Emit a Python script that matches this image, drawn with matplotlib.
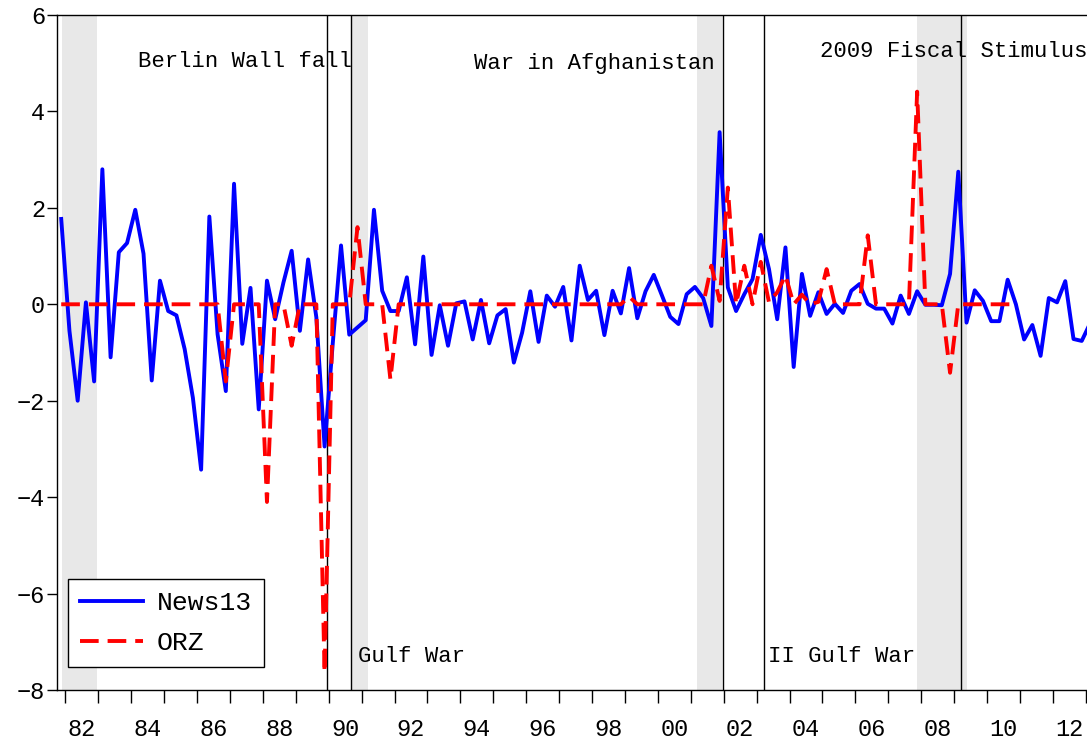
import matplotlib
matplotlib.use("Agg")
import matplotlib.pyplot as plt
import pandas as pd

# quarterly series, first observation 1981Q4
first_quarter = "1981Q4"

news13 = [
    1.77, -0.55, -2.00, 0.04, -1.60, 2.80, -1.10, 1.08, 1.27, 1.96,
    1.05, -1.58, 0.49, -0.14, -0.23, -0.93, -1.94, -3.43, 1.82, -0.62,
    -1.80, 2.50, -0.82, 0.34, -2.18, 0.49, -0.31, 0.45, 1.11, -0.55,
    0.93, -0.27, -2.95, -0.80, 1.22, -0.63, -0.48, -0.33, 1.96, 0.28,
    -0.14, -0.14, 0.56, -0.83, 0.99, -1.05, -0.02, -0.86, 0.02, 0.06,
    -0.73, 0.09, -0.81, -0.23, -0.10, -1.21, -0.59, 0.27, -0.78, 0.18,
    -0.05, 0.36, -0.75, 0.80, 0.09, 0.28, -0.64, 0.28, -0.19, 0.75,
    -0.29, 0.27, 0.61, 0.18, -0.26, -0.41, 0.21, 0.36, 0.13, -0.45,
    3.57, 0.35, -0.14, 0.21, 0.52, 1.44, 0.73, -0.31, 1.18, -1.30,
    0.63, -0.24, 0.25, -0.20, 0.01, -0.18, 0.28, 0.42, 0.01, -0.09,
    -0.09, -0.40, 0.18, -0.20, 0.27, -0.01, -0.01, -0.02, 0.63, 2.75,
    -0.38, 0.29, 0.07, -0.35, -0.35, 0.51, 0.00, -0.73, -0.43, -1.07,
    0.13, 0.04, 0.48, -0.72, -0.76, -0.40,
]

orz = [
    0, 0, 0, 0, 0, 0, 0, 0, 0, 0,
    0, 0, 0, 0, 0, 0, 0, 0, 0, 0,
    -1.60, 0, 0, 0, 0, -4.10, 0, 0, -0.86, 0,
    0, 0, -7.64, 0, 0, 0, 1.60, 0, 0, 0,
    -1.56, 0, 0, 0, 0, 0, 0, 0, 0, 0,
    0, 0, 0, 0, 0, 0, 0, 0, 0, 0,
    0, 0, 0, 0, 0, 0, 0, 0, 0, 0.16,
    0, 0, 0, 0, 0, 0, 0, 0, 0, 0.80,
    0.07, 2.42, 0, 0.80, 0, 0.88, 0.04, 0.25, 0.60, 0,
    0.20, 0, 0.05, 0.73, 0, 0, 0, 0, 1.43, 0,
    0, 0, 0, 0, 4.41, 0, 0, 0, -1.42, 0,
    0, 0, 0, 0, 0, 0, 0,
]

event_dates = [1989.94, 1990.67, 2001.97, 2003.21, 2009.22]
recessions = [(1981.89, 1982.95), (1990.67, 1991.20),
              (2001.19, 2001.95), (2007.86, 2009.40)]

top_labels = ["Berlin Wall fall", "War in Afghanistan", "2009 Fiscal Stimulus"]
top_x = [1984.21, 1994.42, 2004.92]
top_y = [5.03, 4.99, 5.24]
bottom_labels = ["Gulf War", "II Gulf War"]
bottom_x = [1990.89, 2003.35]
bottom_y = [-7.30, -7.30]

year_ticks = list(range(1982, 2014))
label_years = list(range(1982, 2013, 2))
y_ticks = list(range(-8, 7, 2))

plt.rcParams["font.family"] = ["Liberation Mono", "DejaVu Sans"]

periods = pd.period_range(first_quarter, periods=len(news13), freq="Q")
t = periods.year + (periods.quarter - 1) / 4 + 0.125

fig = plt.figure(figsize=(10.87, 7.42), dpi=100)
ax = fig.add_axes([57 / 1087, 52 / 742, 1030 / 1087, 675 / 742])

for start, end in recessions:
    ax.axvspan(start, end, color="#e8e8e8", lw=0, zorder=0)
for d in event_dates:
    ax.axvline(d, color="black", lw=1.0, zorder=1)

ax.plot(t, news13, color="#0000ff", lw=2.8, zorder=3, label="News13")
ax.plot(t[:len(orz)], orz, color="#ff0000", lw=2.8, ls=(0, (4.8, 2.3)),
        zorder=4, label="ORZ")

for s, x, y in zip(top_labels, top_x, top_y):
    ax.text(x, y, s, fontsize=16, ha="left", va="center")
for s, x, y in zip(bottom_labels, bottom_x, bottom_y):
    ax.text(x, y, s, fontsize=16, ha="left", va="center")

ax.set_xlim(1981.747, 2013.035)
ax.set_ylim(-8, 6)

ax.set_xticks(year_ticks)
ax.set_xticklabels([])
ax.set_xticks([y + 0.5 for y in label_years], minor=True)
ax.set_xticklabels([f"{y % 100:02d}" for y in label_years], minor=True)
ax.tick_params(axis="x", which="major", direction="out", length=9, width=1)
ax.tick_params(axis="x", which="minor", length=0, pad=20, labelsize=17)

ax.set_yticks(y_ticks)
ax.tick_params(axis="y", direction="out", length=7, width=1, pad=1.5,
               labelsize=17)

ax.spines["right"].set_visible(False)
for side in ["left", "bottom", "top"]:
    ax.spines[side].set_linewidth(1.0)

leg = ax.legend(loc="lower left", bbox_to_anchor=(0.0107, 0.034),
                borderaxespad=0, fontsize=19, handlelength=2.4,
                handletextpad=0.5, labelspacing=0.6, borderpad=0.45,
                fancybox=False, framealpha=1, edgecolor="black")
leg.get_frame().set_linewidth(1.0)

fig.savefig("out.png", dpi=100)
